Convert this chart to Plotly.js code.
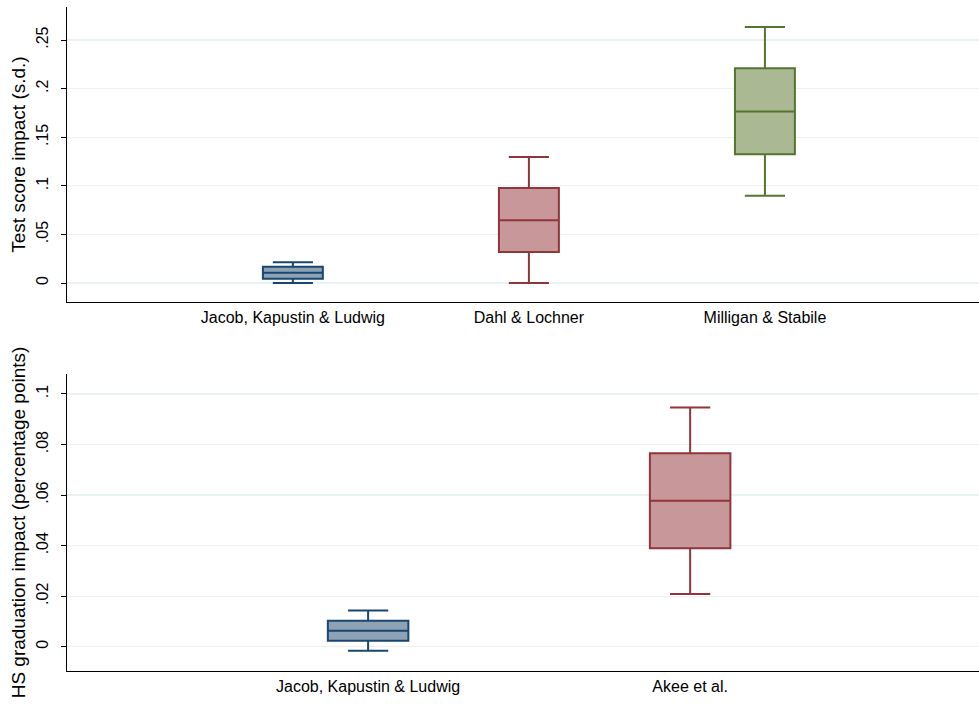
<!DOCTYPE html>
<html>
<head>
<meta charset="utf-8">
<script src="https://cdn.plot.ly/plotly-3.0.1.min.js"></script>
<style>html,body{margin:0;padding:0;background:#fff;}#chart{width:979px;height:706px;}</style>
</head>
<body>
<div id="chart"></div>
<script>
// Top panel: test score impact (s.d.)
const testStudies = ["Jacob, Kapustin & Ludwig", "Dahl & Lochner", "Milligan & Stabile"];
const testLower  = [0.0000, 0.0000, 0.0898];
const testQ1     = [0.0044, 0.0320, 0.1324];
const testMedian = [0.0106, 0.0646, 0.1766];
const testQ3     = [0.0167, 0.0977, 0.2209];
const testUpper  = [0.0214, 0.1298, 0.2634];

// Bottom panel: HS graduation impact (percentage points)
const gradStudies = ["Jacob, Kapustin & Ludwig", "Akee et al."];
const gradLower  = [-0.0016, 0.0209];
const gradQ1     = [0.0024, 0.0390];
const gradMedian = [0.0063, 0.0578];
const gradQ3     = [0.0103, 0.0765];
const gradUpper  = [0.0143, 0.0946];

const testTickVals = [0, 0.05, 0.1, 0.15, 0.2, 0.25];
const testTickText = ["0", ".05", ".1", ".15", ".2", ".25"];
const gradTickVals = [0, 0.02, 0.04, 0.06, 0.08, 0.1];
const gradTickText = ["0", ".02", ".04", ".06", ".08", ".1"];

const lineColors = ["#1a476f", "#90353b", "#55752f"];
const fillColors = ["#8ea2b6", "#c8979a", "#aab894"];

const traces = [];
testStudies.forEach((s, i) => {
  traces.push({
    type: "box", x: [s], q1: [testQ1[i]], median: [testMedian[i]], q3: [testQ3[i]],
    lowerfence: [testLower[i]], upperfence: [testUpper[i]],
    xaxis: "x", yaxis: "y", width: 0.254, whiskerwidth: 0.67,
    line: {color: lineColors[i], width: 2}, fillcolor: fillColors[i],
    boxpoints: false, hoverinfo: "skip", showlegend: false
  });
});
gradStudies.forEach((s, i) => {
  traces.push({
    type: "box", x: [s], q1: [gradQ1[i]], median: [gradMedian[i]], q3: [gradQ3[i]],
    lowerfence: [gradLower[i]], upperfence: [gradUpper[i]],
    xaxis: "x2", yaxis: "y2", width: 0.25, whiskerwidth: 0.5,
    line: {color: lineColors[i], width: 2}, fillcolor: fillColors[i],
    boxpoints: false, hoverinfo: "skip", showlegend: false
  });
});

const font = {family: "Liberation Sans, Arial, sans-serif", size: 16, color: "#000"};
const titleFont = {family: "Liberation Sans, Arial, sans-serif", size: 19, color: "#000"};
const xBase = {
  type: "category", showline: true, linecolor: "#000", linewidth: 1.3,
  ticks: "", showgrid: false, zeroline: false, tickfont: font, fixedrange: true
};
const yBase = {
  showline: true, linecolor: "#000", linewidth: 1.3, ticks: "outside", ticklen: 5,
  tickcolor: "#000", tickwidth: 1, showgrid: true, gridcolor: "#eaf2f3", gridwidth: 1.2,
  zeroline: false, tickangle: -90, tickfont: font, ticklabelstandoff: 6
};

const layout = {
  width: 979, height: 706,
  margin: {l: 67, r: 0, t: 7, b: 35},
  paper_bgcolor: "#fff", plot_bgcolor: "#fff",
  font: font,
  showlegend: false,
  xaxis: Object.assign({}, xBase, {domain: [0, 1], anchor: "y", categoryorder: "array", categoryarray: testStudies, range: [-0.957, 2.907]}),
  yaxis: Object.assign({}, yBase, {domain: [0.5557, 1], anchor: "x", range: [-0.0195, 0.284],
    tickvals: testTickVals, ticktext: testTickText,
    title: {text: "Test score impact (s.d.)", font: titleFont, standoff: 3}}),
  xaxis2: Object.assign({}, xBase, {domain: [0, 1], anchor: "y2", categoryorder: "array", categoryarray: gradStudies, range: [-0.935, 1.897]}),
  yaxis2: Object.assign({}, yBase, {domain: [0, 0.4473], anchor: "x2", range: [-0.0096, 0.1079],
    tickvals: gradTickVals, ticktext: gradTickText,
    title: {text: "HS graduation impact (percentage points)", font: titleFont, standoff: 3}})
};

Plotly.newPlot("chart", traces, layout, {staticPlot: true, displayModeBar: false});
</script>
</body>
</html>
